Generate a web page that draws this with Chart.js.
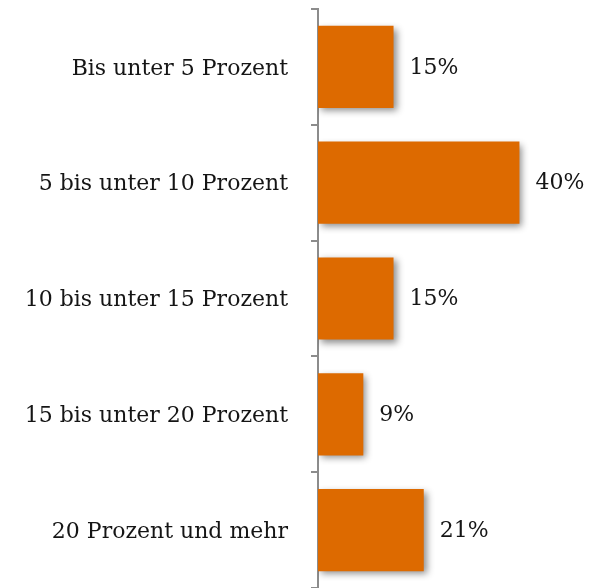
<!DOCTYPE html>
<html>
<head>
<meta charset="utf-8">
<script src="https://cdn.jsdelivr.net/npm/chart.js@4"></script>
<style>
  html, body { margin: 0; padding: 0; background: #fff; }
  #wrap { width: 596px; height: 588px; }
</style>
</head>
<body>
<div id="wrap"><canvas id="chart"></canvas></div>
<script>
const categories = [
  'Bis unter 5 Prozent',
  '5 bis unter 10 Prozent',
  '10 bis unter 15 Prozent',
  '15 bis unter 20 Prozent',
  '20 Prozent und mehr'
];
const shares = [15, 40, 15, 9, 21];

const FONT = '"DejaVu Serif", Georgia, serif';

// soft drop shadow behind the bars
const barShadow = {
  id: 'barShadow',
  beforeDatasetsDraw(chart) {
    const ctx = chart.ctx;
    ctx.save();
    ctx.shadowColor = 'rgba(0,0,0,0.45)';
    ctx.shadowBlur = 7;
    ctx.shadowOffsetX = 3;
    ctx.shadowOffsetY = 3;
  },
  afterDatasetsDraw(chart) {
    chart.ctx.restore();
  }
};

// percentage text to the right of each bar
const valueLabels = {
  id: 'valueLabels',
  afterDatasetsDraw(chart) {
    const ctx = chart.ctx;
    const meta = chart.getDatasetMeta(0);
    ctx.save();
    ctx.font = '22px ' + FONT;
    ctx.fillStyle = '#151515';
    ctx.textAlign = 'left';
    ctx.textBaseline = 'middle';
    meta.data.forEach((bar, i) => {
      ctx.fillText(shares[i] + '%', bar.x + 16, bar.y + 1);
    });
    ctx.restore();
  }
};

new Chart(document.getElementById('chart'), {
  type: 'bar',
  data: {
    labels: categories,
    datasets: [{
      data: shares,
      backgroundColor: '#DD6A00',
      borderWidth: 0,
      categoryPercentage: 0.71,
      barPercentage: 1
    }]
  },
  options: {
    indexAxis: 'y',
    responsive: true,
    maintainAspectRatio: false,
    animation: false,
    layout: { padding: { top: 9, right: 1, bottom: 0, left: 0 } },
    plugins: { legend: { display: false }, tooltip: { enabled: false } },
    scales: {
      x: { display: false, min: 0, max: 55 },
      y: {
        afterFit(scale) {
          // fixed axis position, no extra room above/below the categories
          scale.width = 318;
          scale.paddingTop = 0;
          scale.paddingBottom = 0;
        },
        grid: {
          drawOnChartArea: false,
          tickLength: 7,
          color: '#8c8c8c',
          lineWidth: 2
        },
        border: { color: '#8c8c8c', width: 2 },
        ticks: {
          color: '#151515',
          padding: 23,
          labelOffset: 2,
          font: { family: FONT, size: 22 }
        }
      }
    }
  },
  plugins: [barShadow, valueLabels]
});
</script>
</body>
</html>
